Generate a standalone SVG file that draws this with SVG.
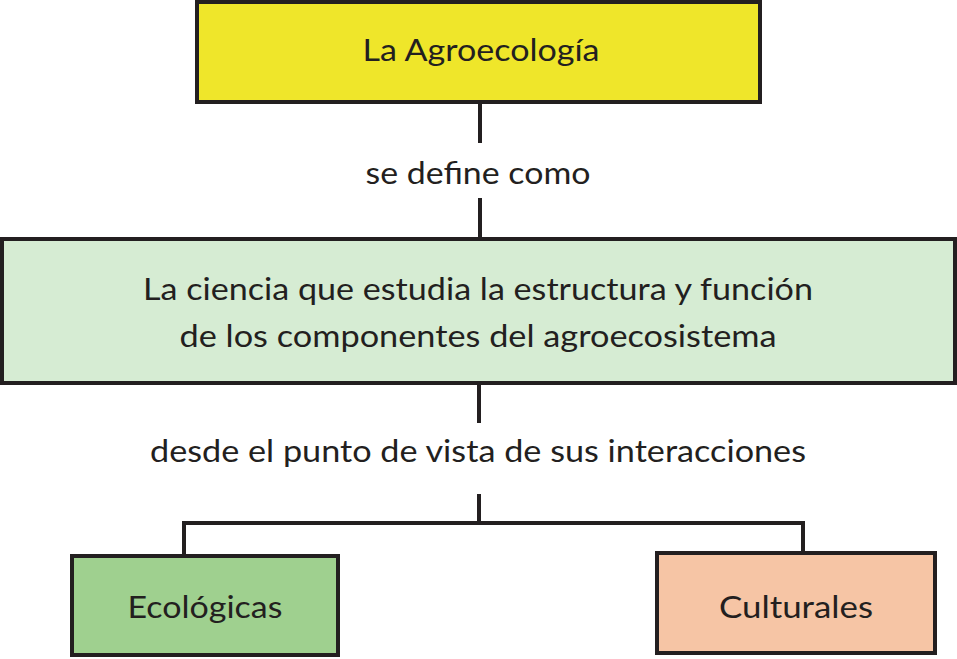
<svg xmlns="http://www.w3.org/2000/svg" width="957" height="659" viewBox="0 0 957 659">
<style>
.box{stroke:#231f20;stroke-width:4}
.conn{stroke:#231f20;stroke-width:4;fill:none}
text{font-family:Lato,"Open Sans","Noto Sans",sans-serif;font-size:31px;fill:#231f20;text-anchor:middle}
</style>
<rect width="957" height="659" fill="#ffffff"/>
<g id="connectors">
<line class="conn" x1="480" y1="103" x2="480" y2="143"/>
<line class="conn" x1="480" y1="198" x2="480" y2="238"/>
<line class="conn" x1="479" y1="383" x2="479" y2="423"/>
<line class="conn" x1="479" y1="494" x2="479" y2="523"/>
<polyline class="conn" points="184,556 184,523 803,523 803,553"/>
</g>
<g id="node-agroecologia">
<rect class="box" x="197" y="2" width="563" height="100" fill="#efe62a"/>
<text x="481" y="61" textLength="237" lengthAdjust="spacingAndGlyphs">La Agroecología</text>
</g>
<g id="label-define">
<text x="478" y="184" textLength="225" lengthAdjust="spacingAndGlyphs">se define como</text>
</g>
<g id="node-ciencia">
<rect class="box" x="2" y="239" width="953" height="144" fill="#d6ecd3"/>
<text x="478" y="300" textLength="670" lengthAdjust="spacingAndGlyphs">La ciencia que estudia la estructura y función</text>
<text x="478" y="347" textLength="597" lengthAdjust="spacingAndGlyphs">de los componentes del agroecosistema</text>
</g>
<g id="label-desde">
<text x="478" y="462" textLength="656" lengthAdjust="spacingAndGlyphs">desde el punto de vista de sus interacciones</text>
</g>
<g id="node-ecologicas">
<rect class="box" x="72" y="556" width="266" height="99" fill="#9fd08f"/>
<text x="205" y="618" textLength="155" lengthAdjust="spacingAndGlyphs">Ecológicas</text>
</g>
<g id="node-culturales">
<rect class="box" x="657" y="553" width="278" height="100" fill="#f6c5a5"/>
<text x="796" y="618" textLength="154" lengthAdjust="spacingAndGlyphs">Culturales</text>
</g>
</svg>
